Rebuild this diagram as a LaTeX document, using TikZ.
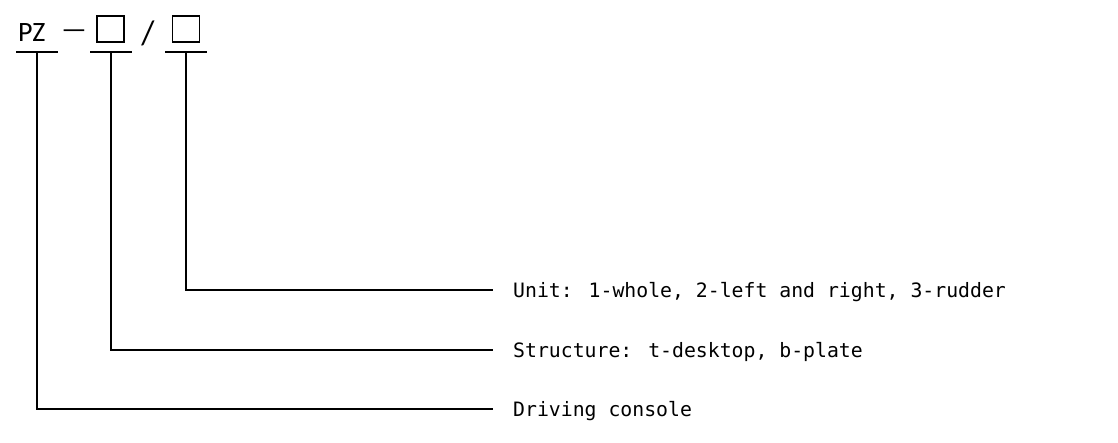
\documentclass[tikz,border=0pt]{standalone}
\usepackage{fontspec}
\setmainfont{Carlito}
\newfontfamily\monofont{DejaVu Sans Mono}
\begin{document}
\begin{tikzpicture}[x=1pt,y=-1pt,
  conn/.style={line width=2pt},
  bar/.style={line width=2pt},
  codebox/.style={draw, line width=1.8pt, minimum width=27pt, minimum height=26pt, inner sep=0pt},
  codetext/.style={inner sep=0pt, font=\fontsize{28}{32}\selectfont},
  label/.style={anchor=base west, inner sep=0pt, font=\monofont\fontsize{19.8}{24}\selectfont}]
\useasboundingbox (0,0) rectangle (1118,442);
% top code
\node[codetext, anchor=base west] (pz) at (18,41) {PZ};
\node[codetext, anchor=base] (dash) at (74,38.5) {—};
\node[codebox] (box1) at (110.5,29) {};
\node[codetext, anchor=base, font=\fontsize{34}{37}\selectfont] (slash) at (148,44) {/};
\node[codebox] (box2) at (186,29) {};
% bars
\coordinate (b1l) at (16,52); \coordinate (b1r) at (58,52); \coordinate (b1c) at (37,52);
\coordinate (b2l) at (90,52); \coordinate (b2r) at (132,52); \coordinate (b2c) at (111,52);
\coordinate (b3l) at (165,52); \coordinate (b3r) at (207,52); \coordinate (b3c) at (186,52);
\draw[bar] (b1l) -- (b1r);
\draw[bar] (b2l) -- (b2r);
\draw[bar] (b3l) -- (b3r);
% labels
\node[label] (l3) at (513,297.5) {Unit: 1-whole, 2-left and right, 3-rudder};
\node[label] (l2) at (513,357.5) {Structure: t-desktop, b-plate};
\node[label] (l1) at (513,416.5) {Driving console};
\coordinate (e3) at (493,290);
\coordinate (e2) at (493,350);
\coordinate (e1) at (493,409);
\draw[conn] (b3c) |- (e3);
\draw[conn] (b2c) |- (e2);
\draw[conn] (b1c) |- (e1);
\end{tikzpicture}
\end{document}
